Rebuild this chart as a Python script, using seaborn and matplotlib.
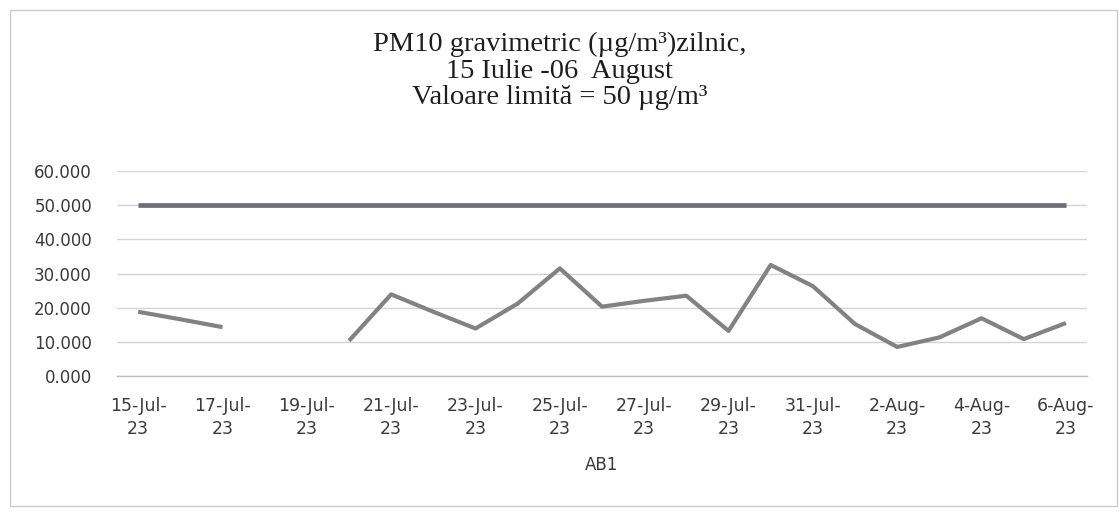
import numpy as np
import pandas as pd
import matplotlib
matplotlib.use("Agg")
import matplotlib.pyplot as plt
from matplotlib.patches import Rectangle
from matplotlib.ticker import FuncFormatter
import seaborn as sns

# data
days = ["2023-07-15", "2023-07-16", "2023-07-17", "2023-07-18", "2023-07-19",
        "2023-07-20", "2023-07-21", "2023-07-22", "2023-07-23", "2023-07-24",
        "2023-07-25", "2023-07-26", "2023-07-27", "2023-07-28", "2023-07-29",
        "2023-07-30", "2023-07-31", "2023-08-01", "2023-08-02", "2023-08-03",
        "2023-08-04", "2023-08-05", "2023-08-06"]
pm10 = [18.8, 16.6, 14.3, np.nan, np.nan, 10.3, 23.9, 18.8, 13.9, 21.2,
        31.5, 20.3, 22.0, 23.5, 13.2, 32.5, 26.3, 15.2, 8.5, 11.3,
        16.9, 10.8, 15.5]
limit = [50] * len(days)
tick_days = ["2023-07-15", "2023-07-17", "2023-07-19", "2023-07-21", "2023-07-23",
             "2023-07-25", "2023-07-27", "2023-07-29", "2023-07-31", "2023-08-02",
             "2023-08-04", "2023-08-06"]
tick_labels = ["15-Jul-\n23", "17-Jul-\n23", "19-Jul-\n23", "21-Jul-\n23", "23-Jul-\n23",
               "25-Jul-\n23", "27-Jul-\n23", "29-Jul-\n23", "31-Jul-\n23", "2-Aug-\n23",
               "4-Aug-\n23", "6-Aug-\n23"]
title_lines = ["PM10 gravimetric (\u00b5g/m\u00b3)zilnic,",
               "15 Iulie -06  August",
               "Valoare limit\u0103 = 50 \u00b5g/m\u00b3"]

df = pd.DataFrame({"date": pd.to_datetime(days), "pm10": pm10, "limit": limit})
# gaps in the measured series -> separate line pieces
df["segment"] = df["pm10"].isna().cumsum()
meas = df.dropna(subset=["pm10"])

sns.set_style("white")
plt.rcParams["font.family"] = ["DejaVu Sans"]

fig = plt.figure(figsize=(11.19, 5.22), dpi=100)
ax = fig.add_axes([0.1046, 0.2797, 0.9714 - 0.1046, 0.3927])

sns.lineplot(data=df, x="date", y="limit", color="#6e6e78", linewidth=3.4, ax=ax,
             solid_capstyle="butt")
sns.lineplot(data=meas, x="date", y="pm10", units="segment", estimator=None,
             color="#828282", linewidth=3.0, ax=ax, solid_capstyle="butt")

d0 = pd.Timestamp(days[0]) - pd.Timedelta(hours=12)
d1 = pd.Timestamp(days[-1]) + pd.Timedelta(hours=12)
ax.set_xlim(d0, d1)
ax.set_ylim(0, 60)
ax.set_yticks(range(0, 61, 10))
ax.yaxis.set_major_formatter(FuncFormatter(lambda v, p: f"{v:.3f}"))
ax.grid(axis="y", color="#d4d4d4", linewidth=1.0)
ax.set_axisbelow(True)

tick_pos = pd.to_datetime(tick_days)
ax.set_xticks(tick_pos)
ax.set_xticklabels(tick_labels, linespacing=1.4)
ax.set_xticks(tick_pos - pd.Timedelta(hours=12), minor=True)
ax.tick_params(axis="x", which="major", length=0, pad=15, labelsize=12.5, colors="#3a3a3a")
ax.tick_params(axis="x", which="minor", length=4, color="#bdbdbd", width=1, direction="out")
ax.tick_params(axis="y", length=0, pad=18, labelsize=12, colors="#3a3a3a")

for s in ["top", "right", "left"]:
    ax.spines[s].set_visible(False)
ax.spines["bottom"].set_color("#bdbdbd")
ax.spines["bottom"].set_linewidth(1.0)

ax.set_xlabel("AB1", fontsize=12, color="#3a3a3a", labelpad=13)
ax.set_ylabel("")

fig.text(0.5, 1 - 71 / 522, "\n".join(title_lines), ha="center", va="center",
         multialignment="center", linespacing=1.06,
         fontsize=20.5, family="Liberation Serif", color="#1e1e1e")

fig.patches.append(Rectangle((0.009, 0.031), 0.989, 0.95, transform=fig.transFigure,
                             fill=False, edgecolor="#cccccc", linewidth=1.0))

fig.savefig("out.png", dpi=100)
